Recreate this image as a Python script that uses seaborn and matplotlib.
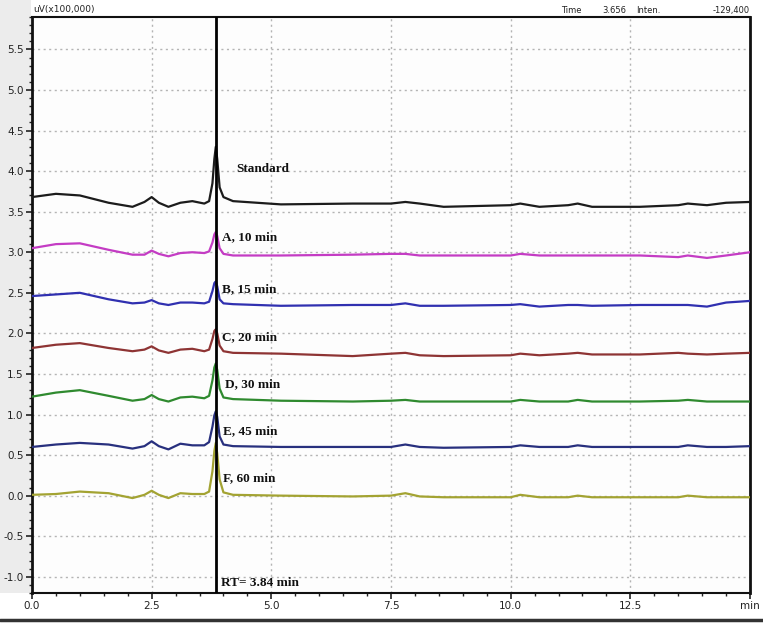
import numpy as np
import pandas as pd
import seaborn as sns
import matplotlib.pyplot as plt
from matplotlib.lines import Line2D
from matplotlib.patches import Rectangle
from matplotlib.ticker import MultipleLocator

# ──────────────────────────────
# Chromatogram data
# ──────────────────────────────
times = [0.0, 0.5, 1.0, 1.6, 2.1, 2.35, 2.5, 2.65, 2.85, 3.1, 3.35, 3.6, 3.7,
         3.77, 3.81, 3.84, 3.87, 3.92, 4.0, 4.2, 5.2, 6.7, 7.5, 7.8, 8.1, 8.6,
         10.0, 10.2, 10.6, 11.2, 11.4, 11.7, 12.7, 13.5, 13.7, 14.1, 14.5, 15.0]

standard = [3.68, 3.72, 3.70, 3.61, 3.56, 3.62, 3.68, 3.61, 3.56, 3.61, 3.63, 3.60, 3.63,
            3.85, 4.15, 4.30, 4.15, 3.80, 3.68, 3.63, 3.59, 3.60, 3.60, 3.62, 3.60, 3.56,
            3.58, 3.60, 3.56, 3.58, 3.60, 3.56, 3.56, 3.58, 3.60, 3.58, 3.61, 3.62]
sample_a = [3.05, 3.10, 3.11, 3.03, 2.97, 2.97, 3.02, 2.98, 2.95, 2.99, 3.00, 2.99, 3.01,
            3.12, 3.22, 3.25, 3.20, 3.05, 2.98, 2.96, 2.96, 2.97, 2.98, 2.98, 2.96, 2.96,
            2.96, 2.98, 2.96, 2.96, 2.96, 2.96, 2.96, 2.94, 2.96, 2.93, 2.96, 3.00]
sample_b = [2.46, 2.48, 2.50, 2.42, 2.37, 2.38, 2.41, 2.37, 2.35, 2.38, 2.38, 2.37, 2.39,
            2.52, 2.62, 2.64, 2.58, 2.42, 2.37, 2.36, 2.34, 2.35, 2.35, 2.37, 2.34, 2.34,
            2.35, 2.36, 2.33, 2.35, 2.35, 2.34, 2.35, 2.35, 2.35, 2.33, 2.38, 2.40]
sample_c = [1.82, 1.86, 1.88, 1.82, 1.78, 1.80, 1.84, 1.79, 1.76, 1.80, 1.81, 1.78, 1.80,
            1.93, 2.03, 2.05, 2.00, 1.85, 1.78, 1.76, 1.75, 1.72, 1.75, 1.76, 1.73, 1.72,
            1.73, 1.75, 1.73, 1.75, 1.76, 1.74, 1.74, 1.76, 1.75, 1.74, 1.75, 1.76]
sample_d = [1.22, 1.27, 1.30, 1.23, 1.17, 1.19, 1.24, 1.19, 1.16, 1.21, 1.22, 1.20, 1.23,
            1.42, 1.58, 1.63, 1.55, 1.32, 1.21, 1.19, 1.17, 1.16, 1.17, 1.18, 1.16, 1.16,
            1.16, 1.18, 1.16, 1.16, 1.18, 1.16, 1.16, 1.17, 1.18, 1.16, 1.16, 1.16]
sample_e = [0.60, 0.63, 0.65, 0.63, 0.58, 0.61, 0.67, 0.61, 0.57, 0.64, 0.62, 0.62, 0.66,
            0.85, 0.99, 1.04, 0.97, 0.73, 0.63, 0.61, 0.60, 0.60, 0.60, 0.63, 0.60, 0.59,
            0.60, 0.62, 0.60, 0.60, 0.62, 0.60, 0.60, 0.60, 0.62, 0.60, 0.60, 0.61]
sample_f = [0.01, 0.02, 0.05, 0.03, -0.03, 0.01, 0.06, 0.01, -0.03, 0.03, 0.02, 0.02, 0.05,
            0.30, 0.55, 0.65, 0.52, 0.20, 0.04, 0.01, 0.00, -0.01, 0.00, 0.03, -0.01, -0.02,
            -0.02, 0.01, -0.02, -0.02, 0.00, -0.02, -0.02, -0.02, 0.00, -0.02, -0.02, -0.02]

series_names = ["Standard", "A, 10 min", "B, 15 min", "C, 20 min",
                "D, 30 min", "E, 45 min", "F, 60 min"]
series_values = [standard, sample_a, sample_b, sample_c, sample_d, sample_e, sample_f]
series_colors = ["#1c1c1c", "#c43cc4", "#3030b0", "#8e3434", "#2f8a2f", "#28307e", "#a3a332"]

# label anchor points (min, signal)
label_x = [4.27, 3.98, 3.98, 3.96, 4.04, 4.00, 4.00]
label_y = [4.02, 3.19, 2.54, 1.95, 1.38, 0.80, 0.21]

retention_time = 3.84
yticks = [-1.0, -0.5, 0.0, 0.5, 1.0, 1.5, 2.0, 2.5, 3.0, 3.5, 4.0, 4.5, 5.0, 5.5]
xticks = [0.0, 2.5, 5.0, 7.5, 10.0, 12.5, 15.0]
xtick_labels = ["0.0", "2.5", "5.0", "7.5", "10.0", "12.5", "min"]

# ──────────────────────────────
# Build long-form frame
# ──────────────────────────────
frames = []
for name, vals in zip(series_names, series_values):
    frames.append(pd.DataFrame({"time": times, "signal": vals, "sample": name}))
df = pd.concat(frames, ignore_index=True)

sns.set_style("white")
plt.rcParams["font.family"] = ["DejaVu Sans"]

fig = plt.figure(figsize=(7.63, 6.24), dpi=100, facecolor="white")
fig.add_artist(Rectangle((0, 0.05), 0.04, 0.95, transform=fig.transFigure,
                         facecolor="#ececec", edgecolor="none", zorder=-5))
ax = fig.add_axes([0.0419, 0.0497, 0.9411, 0.9231])
ax.set_facecolor("#fdfdfd")

sns.lineplot(data=df, x="time", y="signal", hue="sample", hue_order=series_names,
             palette=dict(zip(series_names, series_colors)), estimator=None,
             sort=False, linewidth=1.6, legend=False, ax=ax, zorder=3)

ax.axvline(retention_time, color="black", linewidth=2.0, zorder=4)

serif = ["Liberation Serif", "DejaVu Serif"]
for name, lx, ly in zip(series_names, label_x, label_y):
    ax.text(lx, ly, name, fontsize=9.5, fontweight="bold", family=serif,
            ha="left", va="center", color="#111111", zorder=5)
ax.text(3.94, -1.08, "RT= 3.84 min", fontsize=9.5, fontweight="bold", family=serif,
        ha="left", va="center", color="#111111", zorder=5)

ax.set_xlim(0, 15.0)
ax.set_ylim(-1.2, 5.9)
ax.set_xticks(xticks)
ax.set_xticklabels(xtick_labels)
ax.set_yticks(yticks)
ax.set_yticklabels([f"{v:.1f}" for v in yticks])
ax.xaxis.set_minor_locator(MultipleLocator(0.5))
ax.yaxis.set_minor_locator(MultipleLocator(0.1))
ax.tick_params(axis="both", which="major", labelsize=7.5, colors="#222222",
               direction="out", length=4, width=1.2, pad=2)
ax.tick_params(axis="both", which="minor", direction="out", length=2.5,
               width=1.0, colors="#222222")
ax.tick_params(axis="x", which="both", bottom=True)
ax.tick_params(axis="y", which="both", left=True)
ax.set_xlabel("")
ax.set_ylabel("")
ax.grid(True, which="major", linestyle=(0, (1.5, 2.5)), color="#b4b4b4", linewidth=1.0)

for side in ["left", "top", "bottom", "right"]:
    ax.spines[side].set_color("#111111")
ax.spines["left"].set_linewidth(2.0)
ax.spines["top"].set_linewidth(1.5)
ax.spines["bottom"].set_linewidth(1.5)
ax.spines["right"].set_linewidth(2.0)

# header texts
fig.text(0.044, 0.978, "uV(x100,000)", fontsize=6.5, ha="left", va="bottom", color="#222222")
fig.text(0.735, 0.976, "Time", fontsize=6, ha="left", va="bottom", color="#222222")
fig.text(0.789, 0.976, "3.656", fontsize=6, ha="left", va="bottom", color="#222222")
fig.text(0.834, 0.976, "Inten.", fontsize=6, ha="left", va="bottom", color="#222222")
fig.text(0.982, 0.976, "-129,400", fontsize=6, ha="right", va="bottom", color="#222222")

fig.add_artist(Line2D([0, 1], [0.006, 0.006], transform=fig.transFigure,
                      color="#333333", linewidth=2.5))

fig.savefig("out.png", dpi=100, facecolor=fig.get_facecolor())
